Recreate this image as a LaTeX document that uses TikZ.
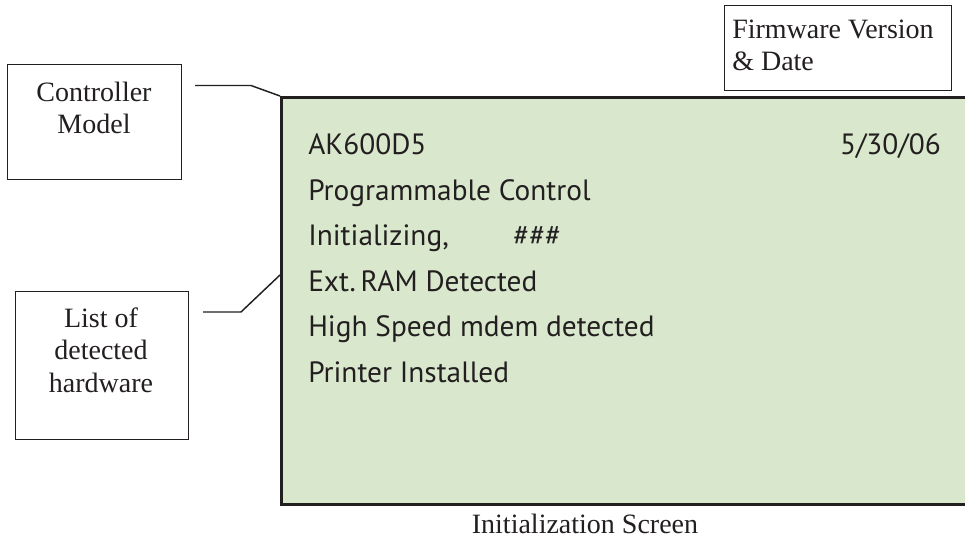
\documentclass[tikz,border=0pt]{standalone}
\usepackage{fontspec}
\setmainfont{Liberation Serif}
\newfontfamily\scrfont{PT Sans}
\definecolor{scrgreen}{RGB}{217,232,205}
\definecolor{ink}{RGB}{35,31,32}
\begin{document}
\begin{tikzpicture}[x=0.75pt,y=-0.75pt,
  lbl/.style={draw=ink, line width=1.1pt, fill=white, inner sep=0pt, anchor=north west},
  lbltext/.style={font=\fontsize{21}{24}\selectfont, text=ink, inner sep=0pt, anchor=base},
  scrtext/.style={font=\scrfont\fontsize{22}{26}\selectfont, text=ink, inner sep=0pt, anchor=base west},
  conn/.style={draw=ink, line width=1.1pt}]
\useasboundingbox (0,0) rectangle (965,542);
\clip (0,0) rectangle (965,542);
% screen
\node[draw=ink, line width=2.2pt, fill=scrgreen, inner sep=0pt, anchor=north west,
      minimum width=525pt, minimum height=305.25pt] (screen) at (280,96) {};
\node[scrtext] (l1) at (308,155) {AK600D5};
\node[scrtext, anchor=base east] (date) at (941,155) {5/30/06};
\node[scrtext] (l2) at (308,200) {Programmable Control};
\node[scrtext] (l3) at (308,245) {Initializing,};
\node[scrtext] (l3b) at (513,245) {\#\#\#};
\node[scrtext] (l4) at (308,291) {Ext.\,RAM Detected};
\node[scrtext] (l5) at (308,336) {High Speed mdem detected};
\node[scrtext] (l6) at (308,382) {Printer Installed};
% label boxes
\node[lbl, minimum width=130.5pt, minimum height=86.25pt] (ctrl) at (7,64) {};
\node[lbltext] (ctrl1) at (94,102) {Controller};
\node[lbltext] (ctrl2) at (94,133) {Model};
\node[lbl, minimum width=129.75pt, minimum height=111pt] (hw) at (15,291) {};
\node[lbltext] (hw1) at (101,327) {List of};
\node[lbltext] (hw2) at (101,359) {detected};
\node[lbltext] (hw3) at (101,392) {hardware};
\node[lbl, minimum width=170.25pt, minimum height=63.75pt] (fw) at (724,5) {};
\node[lbltext, anchor=base west] (fw1) at (732,39) {Firmware Version};
\node[lbltext, anchor=base west] (fw2) at (732,71) {\& Date};
% caption
\node[lbltext] (cap) at (585,533) {Initialization Screen};
% connectors
\coordinate (ctrlout) at (195,85.5);
\coordinate (ctrlbend) at (251,85.5);
\coordinate (hwout) at (203,312);
\coordinate (hwbend) at (241,312);
\coordinate (hwend) at (280,275);
\draw[conn] (ctrlout) -- (ctrlbend) -- (screen.north west);
\draw[conn] (hwout) -- (hwbend) -- (hwend);
\end{tikzpicture}
\end{document}
